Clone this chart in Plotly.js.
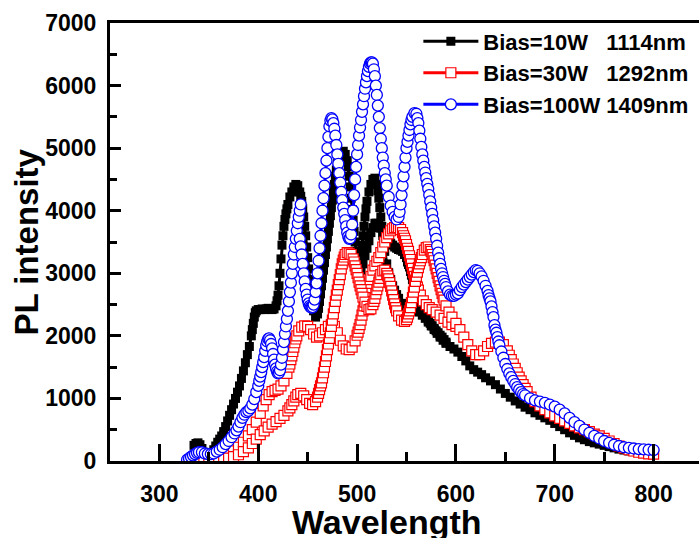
<!DOCTYPE html>
<html>
<head>
<meta charset="utf-8">
<script src="https://cdn.plot.ly/plotly-3.0.1.min.js"></script>
<style>
html,body{margin:0;padding:0;overflow:hidden;background:#fff;}
#chart{width:705px;height:538px;}
</style>
</head>
<body>
<div id="chart"></div>
<script>
// ---- Data ----
// Bias=10W (black, filled squares) main sweep
var blackX = [335,337,339,341,343,345,347,349,351,353,355,357,359,361,363,365,367,369,371,373,375,377,379,381,383,385,387,389,391,393,394,395,396,397,398,400,402,404,406,408,410,412,414,416,418,419,420,421,422,423,424,425,426,427,428,429,430,432,434,436,438,440,442,443,444,445,446,447,448,449,450,451,452,453,454,455,456,458,460,461,462,463,464,465,466,467,468,469,470,471,472,473,474,475,476,477,478,479,480,481,482,484,486,488,490,491,492,493,494,495,496,497,498,499,500,502,503,504,505,506,507,508,509,510,512,514,516,518,520,521,522,523,524,525,526,527,528,530,532,534,536,538,540,542,545,548,551,554,557,560,563,566,569,572,575,578,581,584,587,590,594,598,602,606,610,614,618,622,626,630,635,640,645,650,655,660,665,670,675,680,685,690,695,700,705,710,715,720,725,730,735,740,745,750,755,760,765,770,775,780,785,790];
var blackY = [250,280,290,260,200,140,110,100,100,130,180,240,300,350,400,470,550,640,730,820,910,1000,1100,1200,1320,1440,1570,1700,1830,2000,2100,2200,2300,2370,2400,2420,2420,2430,2420,2430,2440,2430,2420,2430,2480,2560,2650,2800,3000,3230,3450,3600,3750,3860,3950,4030,4100,4220,4300,4380,4420,4400,4300,4230,4150,4030,3900,3750,3600,3420,3250,3070,2900,2750,2600,2500,2400,2300,2350,2440,2550,2670,2800,2920,3050,3170,3300,3420,3550,3670,3800,3920,4050,4170,4300,4420,4550,4650,4750,4820,4880,4940,4950,4900,4800,4700,4550,4380,4200,4020,3850,3670,3500,3350,3250,3150,3200,3300,3450,3600,3750,3900,4030,4150,4300,4420,4500,4520,4420,4320,4200,4050,3900,3750,3600,3470,3350,3150,3010,2900,2800,2730,2660,2600,2520,2460,2420,2400,2400,2400,2380,2330,2280,2220,2160,2100,2040,1980,1930,1880,1830,1790,1740,1670,1600,1520,1460,1420,1380,1330,1280,1220,1150,1080,1020,960,910,860,820,770,730,690,650,600,550,500,450,410,370,340,310,290,270,250,230,210,190,175,160,150,135,125];
// Bias=10W second (overlapping) sweep
var black2X = [500,502,504,506,508,510,512,514,516,518,520,522,524,526,528,530,532,534,536,538,540,542,544,546,548,550,551,552,553,554,555,556,557,558,559,560,561,562,564,566,568,570,572,574,576,578,580,582,584,586,588,590];
var black2Y = [3050,3000,3050,3150,3280,3400,3520,3650,3730,3800,3800,3780,3720,3650,3600,3550,3510,3480,3450,3420,3400,3380,3370,3350,3300,3250,3180,3140,3100,3030,2970,2900,2830,2770,2700,2650,2600,2550,2470,2400,2350,2300,2250,2200,2160,2120,2080,2050,2010,1980,1940,1900];

// Bias=30W (red, open squares) main sweep
var redX = [340,345,350,355,360,365,370,375,380,385,390,394,398,402,406,410,414,418,422,426,430,432,434,436,438,440,443,446,449,452,455,458,460,461,462,463,464,465,466,467,468,469,470,471,472,473,474,475,476,477,478,479,480,481,482,483,484,485,486,487,488,490,492,494,496,497,498,499,500,501,502,503,504,505,506,508,510,512,514,516,517,518,519,520,521,522,523,524,526,528,530,531,532,533,534,535,536,537,538,539,540,542,545,548,550,551,552,553,554,555,556,557,558,559,560,561,562,563,564,565,566,568,570,572,574,575,576,577,578,579,580,581,582,583,584,585,586,587,588,590,593,596,600,604,608,612,616,620,624,628,632,636,640,644,648,652,654,656,658,660,662,664,666,668,670,672,676,680,685,690,695,700,705,710,715,720,725,730,735,740,745,750,755,760,765,770,775,780,785,790,795,800];
var redY = [0,5,10,15,20,30,45,70,100,150,210,280,350,420,480,540,590,630,680,730,800,850,900,960,1020,1060,1080,1040,980,920,900,950,1020,1080,1140,1200,1250,1330,1410,1500,1590,1680,1780,1870,1960,2050,2150,2250,2350,2450,2550,2650,2730,2820,2900,2980,3070,3150,3210,3260,3300,3330,3320,3300,3230,3180,3120,3060,3000,2930,2860,2800,2740,2680,2620,2540,2470,2420,2430,2500,2550,2600,2670,2740,2800,2860,2920,2980,3040,3050,3000,2960,2910,2850,2790,2720,2650,2580,2510,2450,2400,2320,2250,2230,2260,2300,2350,2400,2450,2530,2610,2700,2780,2870,2950,3020,3090,3150,3200,3250,3300,3370,3410,3420,3380,3350,3300,3250,3200,3130,3070,3000,2930,2870,2800,2740,2680,2620,2570,2480,2380,2300,2200,2100,1980,1860,1760,1700,1700,1760,1830,1880,1900,1900,1860,1760,1690,1620,1550,1480,1410,1340,1280,1220,1160,1110,1020,950,880,820,770,720,680,640,600,560,530,500,470,430,400,360,320,280,240,210,180,160,140,125,115,110];
// Bias=30W second (overlapping) sweep
var red2X = [355,360,365,370,375,380,385,390,394,398,402,405,408,411,414,417,420,423,426,429,431,432,433,434,435,436,437,438,439,441,444,447,450,453,456,459,462,465,468,471,474,477,480,483,486,489,492,495,498,500,501,502,503,504,505,506,507,508,509,510,511,512,513,514,516,518,520,522,524,526,528,530,532,534,536,538,540,542,544,546,547,548,549,550,551,552,553,554,555,556,557,558,559,560,561,562,564,567,570,573,576,580,584,588,592,596,600];
var red2Y = [20,40,70,110,160,220,300,400,500,620,760,880,980,1060,1110,1130,1150,1200,1280,1400,1500,1550,1620,1680,1750,1820,1890,1950,2000,2080,2140,2160,2150,2100,2030,1980,2000,2050,2100,2150,2180,2150,2050,1930,1840,1790,1780,1820,1920,2010,2060,2120,2180,2250,2330,2400,2480,2550,2630,2700,2770,2840,2900,2950,3050,3120,3190,3250,3330,3420,3500,3570,3630,3680,3710,3730,3740,3730,3700,3650,3600,3560,3520,3460,3400,3350,3280,3220,3150,3080,3010,2950,2890,2840,2780,2730,2650,2560,2500,2450,2420,2380,2330,2280,2220,2180,2150];

// Bias=100W (blue, open circles)
var blueX = [328,330,332,334,336,338,340,343,346,349,352,355,358,361,364,367,370,373,376,378,380,382,384,386,388,390,392,394,396,398,400,401,402,403,404,405,406,407,408,409,410,411,412,413,414,415,416,417,418,419,420,421,422,423,424,425,426,427,428,429,430,431,432,433,434,435,436,437,438,439,440,441,442,443,442,443,444,445,446,447,448,449,450,451,452,453,454,455,456,457,458,459,460,461,462,463,464,465,466,467,468,469,470,471,472,473,474,475,476,477,478,479,480,481,482,483,484,485,486,487,488,489,490,491,492,493,494,495,496,497,498,499,500,501,502,503,504,505,506,507,508,509,510,511,512,513,514,515,516,517,518,519,520,521,522,523,524,525,526,527,528,529,530,532,534,536,538,540,542,543,544,545,546,547,548,549,550,551,552,553,554,555,556,558,560,561,562,563,564,565,566,567,568,569,570,571,572,573,574,575,576,577,578,579,580,581,582,583,584,585,586,587,588,589,590,592,594,596,598,600,602,604,606,608,610,612,614,616,618,620,622,624,626,628,630,632,633,634,635,636,637,638,639,640,641,642,643,644,646,648,650,652,654,656,658,660,662,664,666,668,670,675,680,685,690,695,700,705,710,715,720,725,730,735,740,745,750,755,760,765,770,775,780,785,790,795,800];
var blueY = [20,40,65,90,110,130,140,140,120,110,110,120,150,180,220,270,320,380,440,490,550,620,690,740,780,800,840,900,990,1100,1200,1280,1350,1420,1500,1580,1660,1760,1850,1910,1950,1960,1930,1870,1800,1710,1620,1540,1480,1430,1400,1410,1450,1540,1650,1780,1900,2030,2150,2270,2400,2550,2700,2850,3000,3150,3300,3420,3550,3680,3800,3900,4000,4100,3550,3430,3300,3150,3000,2870,2750,2660,2580,2520,2480,2460,2450,2460,2500,2580,2700,2840,3000,3200,3400,3600,3800,4000,4200,4400,4600,4800,5000,5180,5350,5440,5480,5460,5400,5310,5200,5050,4900,4750,4600,4450,4300,4170,4050,3950,3850,3750,3650,3590,3550,3560,3620,3780,4000,4250,4500,4700,4900,5050,5200,5330,5450,5580,5700,5830,5950,6050,6150,6230,6300,6350,6370,6370,6350,6260,6150,6000,5850,5680,5500,5320,5150,5000,4850,4720,4600,4500,4400,4220,4080,3980,3900,3860,3900,3980,4100,4250,4400,4550,4700,4850,5000,5100,5200,5290,5380,5450,5500,5560,5550,5480,5400,5280,5150,5020,4900,4800,4700,4610,4520,4430,4350,4250,4150,4050,3950,3850,3750,3650,3550,3440,3330,3240,3150,3070,3000,2940,2880,2830,2780,2710,2660,2640,2640,2660,2680,2730,2780,2820,2860,2900,2940,2980,3020,3050,3040,3000,2950,2880,2800,2720,2650,2600,2550,2470,2380,2300,2170,2100,2050,1980,1910,1850,1750,1650,1550,1470,1400,1340,1280,1230,1180,1140,1100,1070,1050,1000,970,950,930,900,870,820,760,690,620,560,500,450,400,360,320,290,260,240,220,210,200,190,185,180,175];

var seriesNames = ['Bias=10W\u00a0\u00a0\u00a01114nm', 'Bias=30W\u00a0\u00a0\u00a01292nm', 'Bias=100W\u00a01409nm'];
var xTickVals = [300,400,500,600,700,800];
var yTickVals = [0,1000,2000,3000,4000,5000,6000,7000];

// ---- Styles ----
var FONT = 'Liberation Sans, Arial, Helvetica, sans-serif';
var blackStyle = {mode:'lines+markers', line:{color:'#000000', width:3}, marker:{symbol:'square', size:9, color:'#000000', line:{width:0}}};
var redStyle = {mode:'lines+markers', line:{color:'#ff0000', width:3}, marker:{symbol:'square', size:10, color:'#ffffff', line:{width:1.2, color:'#ff0000'}}};
var blueStyle = {mode:'lines+markers', line:{color:'#0000ff', width:3}, marker:{symbol:'circle', size:11, color:'#ffffff', line:{width:1.3, color:'#0000ff'}}};

function tr(x, y, style, name, show, group) {
  var t = {type:'scatter', x:x, y:y, name:name, showlegend:show, legendgroup:group, hoverinfo:'skip', cliponaxis:true};
  for (var k in style) t[k] = style[k];
  return t;
}

var data = [
  tr(blackX, blackY, blackStyle, seriesNames[0], true, 'b'),
  tr(black2X, black2Y, blackStyle, seriesNames[0], false, 'b'),
  tr(red2X, red2Y, redStyle, seriesNames[1], false, 'r'),
  tr(redX, redY, redStyle, seriesNames[1], true, 'r'),
  tr(blueX, blueY, blueStyle, seriesNames[2], true, 'c')
];

var layout = {
  width: 705, height: 538,
  margin: {l:110, r:2, t:23, b:77},
  paper_bgcolor:'#ffffff', plot_bgcolor:'#ffffff',
  showlegend: true,
  font: {family: FONT, color:'#000000', size: 22, weight: 700},
  legend: {x:0.52, y:1.006, xanchor:'left', yanchor:'top', bgcolor:'rgba(0,0,0,0)', borderwidth:0,
           font:{family:FONT, size:22, weight:700, color:'#000'}, itemwidth:55, tracegroupgap:0, traceorder:'normal'},
  xaxis: {
    range:[250,850], tickvals:xTickVals, ticktext:xTickVals.map(String),
    ticks:'inside', ticklen:17, tickwidth:3, tickcolor:'#000',
    minor:{dtick:50, tick0:0, ticks:'inside', ticklen:9, tickwidth:3, tickcolor:'#000'},
    showline:true, linewidth:3, linecolor:'#000', mirror:true,
    showgrid:false, zeroline:false,
    tickfont:{family:FONT, size:23, weight:700, color:'#000'},
    ticklabelstandoff: 10
  },
  yaxis: {
    range:[0,7000], tickvals:yTickVals, ticktext:yTickVals.map(String),
    ticks:'inside', ticklen:11, tickwidth:3, tickcolor:'#000',
    minor:{dtick:500, tick0:0, ticks:'inside', ticklen:7, tickwidth:3, tickcolor:'#000'},
    showline:true, linewidth:3, linecolor:'#000', mirror:true,
    showgrid:false, zeroline:false,
    tickfont:{family:FONT, size:23, weight:700, color:'#000'},
    ticklabelstandoff: 6
  },
  annotations: [
    {text:'Wavelength', xref:'paper', yref:'paper', x:(387-110)/593, y:-(501-461)/438, xanchor:'center', yanchor:'top',
     showarrow:false, font:{family:FONT, size:34, weight:700, color:'#000'}},
    {text:'PL intensity', xref:'paper', yref:'paper', x:-(110-5)/593, y:0.5, xanchor:'left', yanchor:'middle',
     textangle:-90, showarrow:false, font:{family:FONT, size:33, weight:700, color:'#000'}}
  ]
};

Plotly.newPlot('chart', data, layout, {staticPlot:true, displayModeBar:false});
</script>
</body>
</html>
